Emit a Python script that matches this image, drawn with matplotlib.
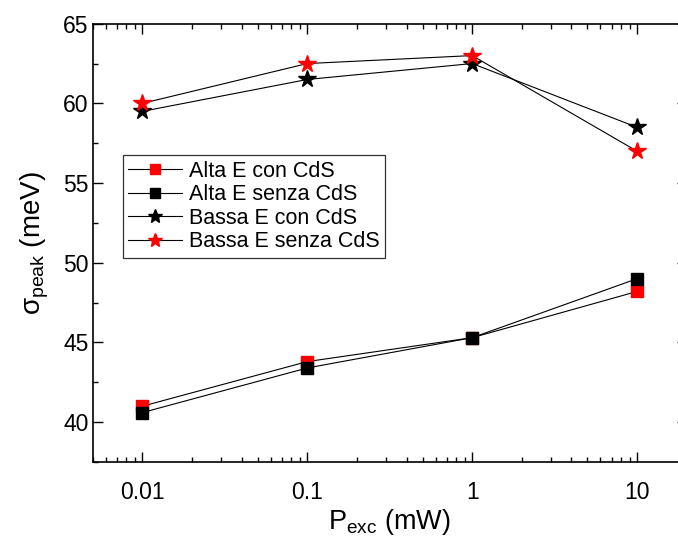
import matplotlib
matplotlib.use("Agg")
import matplotlib.pyplot as plt
from matplotlib.ticker import LogLocator, MultipleLocator, FixedLocator, NullFormatter

plt.rcParams['font.family'] = ['Liberation Sans', 'DejaVu Sans']
plt.rcParams['mathtext.fontset'] = 'custom'
plt.rcParams['mathtext.rm'] = 'Liberation Sans'
plt.rcParams['mathtext.it'] = 'Liberation Sans:italic'

power = [0.01, 0.1, 1, 10]
alta_con = [41.0, 43.8, 45.3, 48.2]
alta_senza = [40.6, 43.4, 45.3, 49.0]
bassa_con = [59.5, 61.5, 62.5, 58.5]
bassa_senza = [60.0, 62.5, 63.0, 57.0]

labels = ['Alta E con CdS', 'Alta E senza CdS', 'Bassa E con CdS', 'Bassa E senza CdS']
xticklabels = ['0.01', '0.1', '1', '10']
yticks = [40, 45, 50, 55, 60, 65]

fig = plt.figure(figsize=(6.78, 5.38), dpi=100)
ax = fig.add_axes([92.7/678, 1 - 462/538, (686.7 - 92.7)/678, (462 - 23.7)/538])

lw = 0.8
ax.plot(power, alta_con, color='black', lw=lw, marker='s', ms=8.5,
        mfc='red', mec='red', label=labels[0], zorder=3)
ax.plot(power, alta_senza, color='black', lw=lw, marker='s', ms=8.5,
        mfc='black', mec='black', label=labels[1], zorder=3)
ax.plot(power, bassa_con, color='black', lw=lw, marker='*', ms=13,
        mfc='black', mec='black', label=labels[2], zorder=3)
ax.plot(power, bassa_senza, color='black', lw=lw, marker='*', ms=13,
        mfc='red', mec='red', label=labels[3], zorder=4)

ax.set_xscale('log')
ax.set_xlim(0.005, 20)
ax.set_ylim(37.5, 65)
ax.xaxis.set_major_locator(FixedLocator(power))
ax.set_xticklabels(xticklabels)
ax.xaxis.set_minor_locator(LogLocator(base=10, subs=range(2, 10), numticks=20))
ax.xaxis.set_minor_formatter(NullFormatter())
ax.set_yticks(yticks)
ax.yaxis.set_minor_locator(MultipleLocator(2.5))

ax.tick_params(which='both', direction='in', top=True, right=True, labelsize=16.5, width=1)
ax.tick_params(which='major', length=7)
ax.tick_params(which='minor', length=3.5)
ax.tick_params(axis='x', pad=14)
ax.tick_params(axis='y', pad=3)
for s in ax.spines.values():
    s.set_linewidth(1.2)

ax.set_xlabel(r'$\mathregular{P_{exc}}$ (mW)', fontsize=19.5, labelpad=2)
ax.set_ylabel(r'$\mathregular{σ_{peak}}$ (meV)', fontsize=20, labelpad=9)

leg = ax.legend(loc='upper left', bbox_to_anchor=(0.051, 0.70), borderaxespad=0,
                fontsize=15.5, frameon=True, fancybox=False, edgecolor='black',
                handlelength=2.5, handletextpad=0.3, labelspacing=0.12,
                borderpad=0.25, numpoints=1, markerscale=0.8)
leg.get_frame().set_linewidth(0.9)

fig.savefig('out.png', dpi=100)
